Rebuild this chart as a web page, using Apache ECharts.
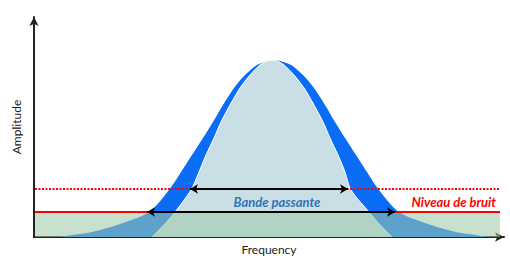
<!DOCTYPE html>
<html>
<head>
<meta charset="utf-8">
<script src="https://cdn.jsdelivr.net/npm/echarts@6/dist/echarts.min.js"></script>
<style>
  html, body { margin: 0; padding: 0; background: #fff; }
  #chart { width: 510px; height: 256px; }
</style>
</head>
<body>
<div id="chart"></div>
<script>
// courbe large (bleu vif) : [fréquence, amplitude]
const outerCurve = [
  [26, 0], [38, 2], [58, 5], [83, 12], [115, 25], [135, 47], [147, 65], [158, 82],
  [169, 99], [179, 115], [189, 132], [200, 149], [211, 162], [223, 172], [234, 176], [240, 177],
  [246, 176], [257, 172], [269, 162], [280, 149], [291, 132], [301, 115], [311, 99], [322, 82],
  [333, 65], [345, 47], [365, 25], [397, 12], [422, 5], [442, 2], [454, 0]
];
// courbe étroite (bleu pâle)
const innerCurve = [
  [118, 0], [123, 5], [130, 12], [141, 25], [157, 47], [165, 65], [172, 82], [180, 99],
  [187, 115], [196, 132], [206, 149], [216, 162], [226, 172], [233, 176], [238, 177],
  [243, 176], [250, 172], [260, 162], [270, 149], [280, 132], [289, 115], [296, 99], [304, 82],
  [311, 65], [317, 47], [335, 25], [346, 12], [353, 5], [358, 0]
];
const noiseLevel = 25;       // niveau de bruit
const passbandLevel = 48;    // seuil bande passante
const bandStart = 1, bandEnd = 466;
const passbandArrow = [156, 314];
const noiseArrow = [113, 361];

const chart = echarts.init(document.getElementById('chart'), null, { renderer: 'svg' });

chart.setOption({
  animation: false,
  grid: { left: 34, right: 6, top: 17, bottom: 19, outerBoundsMode: 'none', containLabel: false },
  xAxis: {
    type: 'value', min: 0, max: 470,
    name: 'Frequency', nameLocation: 'middle', nameGap: 6,
    nameTextStyle: { fontFamily: 'Lato', fontSize: 12, lineHeight: 12, color: '#222' },
    axisLine: { lineStyle: { color: '#222', width: 2 }, symbol: ['none', 'arrow'], symbolSize: [7, 9] },
    axisTick: { show: false }, axisLabel: { show: false }, splitLine: { show: false }
  },
  yAxis: {
    type: 'value', min: 0, max: 220,
    name: 'Amplitude', nameLocation: 'middle', nameGap: 12, nameRotate: 90,
    nameTextStyle: { fontFamily: 'Lato', fontSize: 12, color: '#222' },
    axisLine: { show: true, lineStyle: { color: '#222', width: 2 }, symbol: ['none', 'arrow'], symbolSize: [7, 9] },
    axisTick: { show: false }, axisLabel: { show: false }, splitLine: { show: false }
  },
  series: [
    {
      type: 'line', data: outerCurve, smooth: 0.3, showSymbol: false, z: 2,
      lineStyle: { width: 0 },
      areaStyle: { color: '#0b6df5', opacity: 1 }
    },
    {
      type: 'line', data: innerCurve, smooth: 0.3, showSymbol: false, z: 3,
      lineStyle: { color: '#ffffff', width: 1 },
      areaStyle: { color: '#c9dfe5', opacity: 1 }
    },
    {
      // bande de bruit
      type: 'line', data: [[bandStart, noiseLevel], [bandEnd, noiseLevel]], showSymbol: false, z: 4,
      lineStyle: { width: 0 },
      areaStyle: { color: 'rgba(158,202,170,0.57)', opacity: 1 },
      markLine: {
        silent: true, symbol: ['none', 'none'],
        data: [
          [
            {
              coord: [bandStart, noiseLevel], lineStyle: { color: '#ff0000', width: 2, type: 'solid' },
              label: {
                show: true, position: 'insideEndTop', formatter: 'Niveau de bruit', distance: 4,
                fontFamily: 'Lato', fontStyle: 'italic', fontWeight: 'bold', fontSize: 13, color: '#ff0000'
              }
            },
            { coord: [bandEnd, noiseLevel] }
          ],
          [
            { coord: [bandStart, passbandLevel], lineStyle: { color: '#ff0000', width: 2, type: [2, 1.5] }, label: { show: false } },
            { coord: [bandEnd, passbandLevel] }
          ]
        ]
      }
    },
    {
      type: 'line', data: [], z: 6,
      markLine: {
        silent: true, symbol: ['arrow', 'arrow'], symbolSize: [7, 8],
        lineStyle: { color: '#000', width: 2, type: 'solid' },
        label: { show: false },
        data: [
          [{ coord: [passbandArrow[0], passbandLevel] }, { coord: [passbandArrow[1], passbandLevel] }],
          [
            {
              coord: [noiseArrow[0], noiseLevel],
              label: {
                show: true, position: 'middle', formatter: 'Bande passante', distance: 4, offset: [6, 0],
                fontFamily: 'Lato', fontStyle: 'italic', fontWeight: 'bold', fontSize: 13, color: '#2e75b6'
              }
            },
            { coord: [noiseArrow[1], noiseLevel] }
          ]
        ]
      }
    }
  ]
});
</script>
</body>
</html>
